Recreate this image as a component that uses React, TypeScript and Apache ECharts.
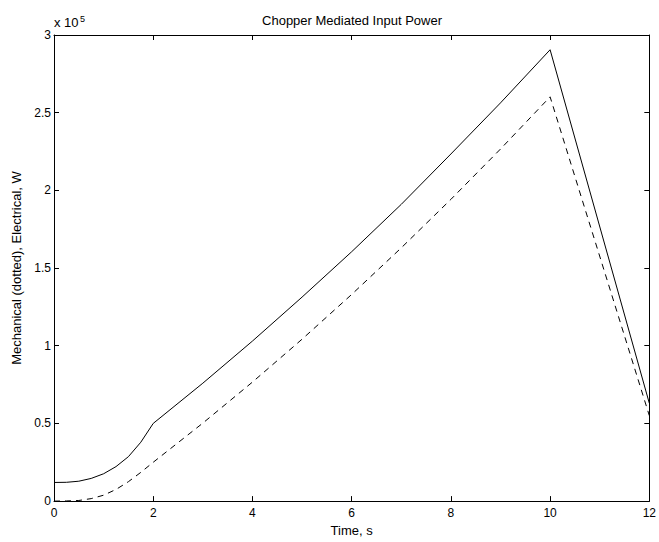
import React, { useEffect, useRef } from "react";
import * as echarts from "echarts";

// Time (s)
const timeS = [0, 0.25, 0.5, 0.75, 1, 1.25, 1.5, 1.75, 2, 3, 4, 5, 6, 7, 8, 9, 10, 12];
// Electrical input power (solid), W
const electricalW = [12000, 12100, 12800, 14600, 17600, 22200, 28600, 37900, 50000, 75900, 103000, 131300, 160500, 191000, 223400, 256300, 290500, 63000];
// Mechanical input power (dashed), W
const mechanicalW = [0, 100, 400, 1600, 3800, 7500, 12500, 18500, 25000, 50200, 76600, 104200, 133000, 163000, 194200, 226600, 260200, 55000];

const xTicks = { min: 0, max: 12, interval: 2 };
const yTicks = { min: 0, max: 300000, interval: 50000 };

const FONT = "'Liberation Sans', Arial, Helvetica, sans-serif";

export default function App() {
  const ref = useRef<HTMLDivElement>(null);
  useEffect(() => {
    if (!ref.current) return;
    const chart = echarts.init(ref.current, undefined, { renderer: "svg" });
    const axisLine = { show: true, onZero: false, lineStyle: { color: "#000", width: 1 } };
    const axisTick = { show: true, inside: true, length: 5, lineStyle: { color: "#000", width: 1 } };
    const label = { color: "#000", fontSize: 12, fontFamily: FONT };
    chart.setOption({
      animation: false,
      backgroundColor: "#fff",
      title: {
        text: "Chopper Mediated Input Power",
        left: 352,
        top: 14,
        padding: 0,
        textAlign: "center",
        textStyle: { color: "#000", fontSize: 13, fontWeight: "normal", fontFamily: FONT },
      },
      grid: { left: 54, right: 9, top: 35, bottom: 37, containLabel: false },
      xAxis: [
        {
          type: "value",
          position: "bottom",
          ...xTicks,
          name: "Time, s",
          nameLocation: "middle",
          nameGap: 18,
          nameTextStyle: { color: "#000", fontSize: 13, fontFamily: FONT },
          axisLine,
          axisTick,
          axisLabel: { ...label, margin: 6 },
          splitLine: { show: false },
        },
        {
          type: "value",
          position: "top",
          ...xTicks,
          axisLine,
          axisTick,
          axisLabel: { show: false },
          splitLine: { show: false },
        },
      ],
      yAxis: [
        {
          type: "value",
          position: "left",
          ...yTicks,
          name: "Mechanical (dotted), Electrical, W",
          nameLocation: "middle",
          nameRotate: 90,
          nameGap: 26,
          nameTextStyle: { color: "#000", fontSize: 13, fontFamily: FONT },
          axisLine,
          axisTick,
          axisLabel: { ...label, margin: 3, formatter: (v: number) => String(v / 1e5) },
          splitLine: { show: false },
        },
        {
          type: "value",
          position: "right",
          ...yTicks,
          axisLine,
          axisTick,
          axisLabel: { show: false },
          splitLine: { show: false },
        },
      ],
      graphic: [
        {
          type: "text",
          x: 54,
          y: 29,
          style: { text: "x 10", fill: "#000", fontSize: 13, fontFamily: FONT, textVerticalAlign: "bottom" },
        },
        {
          type: "text",
          x: 80,
          y: 23,
          style: { text: "5", fill: "#000", fontSize: 9, fontFamily: FONT, textVerticalAlign: "bottom" },
        },
      ],
      series: [
        {
          name: "Electrical",
          type: "line",
          xAxisIndex: 0,
          yAxisIndex: 0,
          data: timeS.map((t, i) => [t, electricalW[i]]),
          showSymbol: false,
          symbol: "none",
          lineStyle: { color: "#000", width: 1, type: "solid" },
        },
        {
          name: "Mechanical",
          type: "line",
          xAxisIndex: 0,
          yAxisIndex: 0,
          data: timeS.map((t, i) => [t, mechanicalW[i]]),
          showSymbol: false,
          symbol: "none",
          lineStyle: { color: "#000", width: 1, type: [6, 5] },
        },
      ],
    });
    return () => chart.dispose();
  }, []);
  return (
    <div
      ref={ref}
      style={{ position: "fixed", left: 0, top: 0, width: 659, height: 542, background: "#fff" }}
    />
  );
}
